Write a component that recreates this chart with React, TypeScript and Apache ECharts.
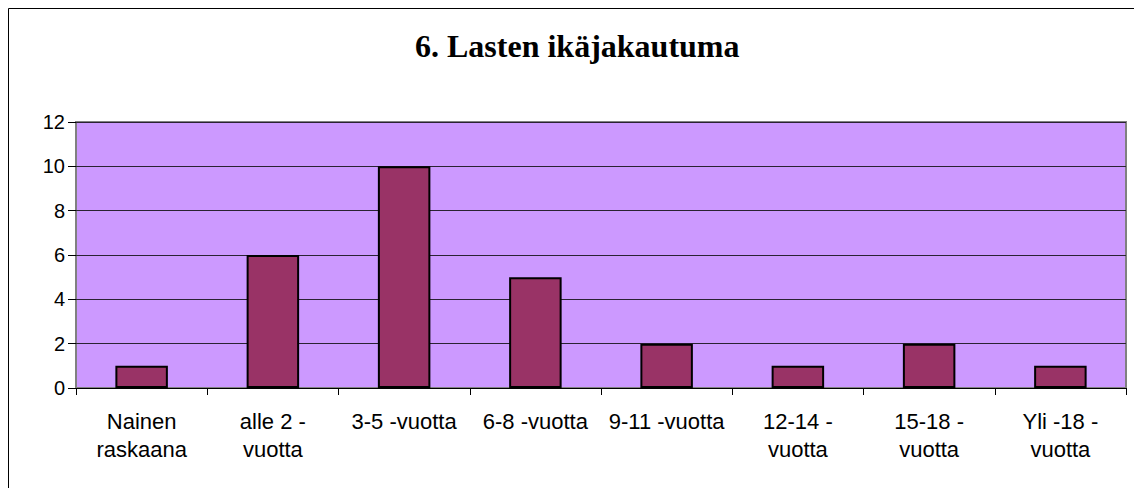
import React, { useEffect, useRef } from "react";
import * as echarts from "echarts";

const titleText = "6. Lasten ikäjakautuma";
const categories = [
  "Nainen\nraskaana",
  "alle 2 -\nvuotta",
  "3-5 -vuotta",
  "6-8 -vuotta",
  "9-11 -vuotta",
  "12-14 -\nvuotta",
  "15-18 -\nvuotta",
  "Yli -18 -\nvuotta",
];
const values = [1, 6, 10, 5, 2, 1, 2, 1];
const yTicks = { min: 0, max: 12, interval: 2 };

export default function App() {
  const ref = useRef<HTMLDivElement>(null);
  useEffect(() => {
    if (!ref.current) return;
    const chart = echarts.init(ref.current, undefined, { renderer: "svg" });
    chart.setOption({
      animation: false,
      backgroundColor: "#ffffff",
      title: {
        text: titleText,
        left: 415,
        top: 30,
        padding: 0,
        textStyle: {
          fontFamily: "Liberation Serif",
          fontWeight: "bold",
          fontSize: 32,
          color: "#000000",
        },
      },
      graphic: [
        {
          type: "rect",
          shape: { x: 8.5, y: 8.5, width: 1200, height: 600 },
          style: { fill: "none", stroke: "#000000", lineWidth: 1 },
          silent: true,
          z: -1,
        },
      ],
      grid: {
        left: 76,
        right: 8,
        top: 122,
        bottom: 100,
        show: true,
        backgroundColor: "#CC99FF",
        borderColor: "#808080",
        borderWidth: 2,
        containLabel: false,
      },
      xAxis: {
        type: "category",
        data: categories,
        axisLine: { show: true, lineStyle: { color: "#000000", width: 1 } },
        axisTick: {
          show: true,
          alignWithLabel: false,
          length: 7,
          lineStyle: { color: "#000000" },
        },
        axisLabel: {
          color: "#000000",
          fontFamily: "Liberation Sans",
          fontSize: 22,
          lineHeight: 28,
          margin: 19,
          interval: 0,
        },
        splitLine: { show: false },
      },
      yAxis: {
        type: "value",
        min: yTicks.min,
        max: yTicks.max,
        interval: yTicks.interval,
        axisLine: { show: false },
        axisTick: {
          show: true,
          length: 8,
          lineStyle: { color: "#000000" },
        },
        axisLabel: {
          color: "#000000",
          fontFamily: "Liberation Sans",
          fontSize: 20,
          margin: 11,
        },
        splitLine: { show: true, lineStyle: { color: "#2a2233", width: 1 } },
      },
      series: [
        {
          type: "bar",
          data: values,
          barWidth: "40%",
          itemStyle: {
            color: "#993366",
            borderColor: "#000000",
            borderWidth: 2,
          },
        },
      ],
    });
    return () => chart.dispose();
  }, []);
  return (
    <div
      ref={ref}
      style={{ position: "fixed", left: 0, top: 0, width: 1134, height: 488 }}
    />
  );
}
